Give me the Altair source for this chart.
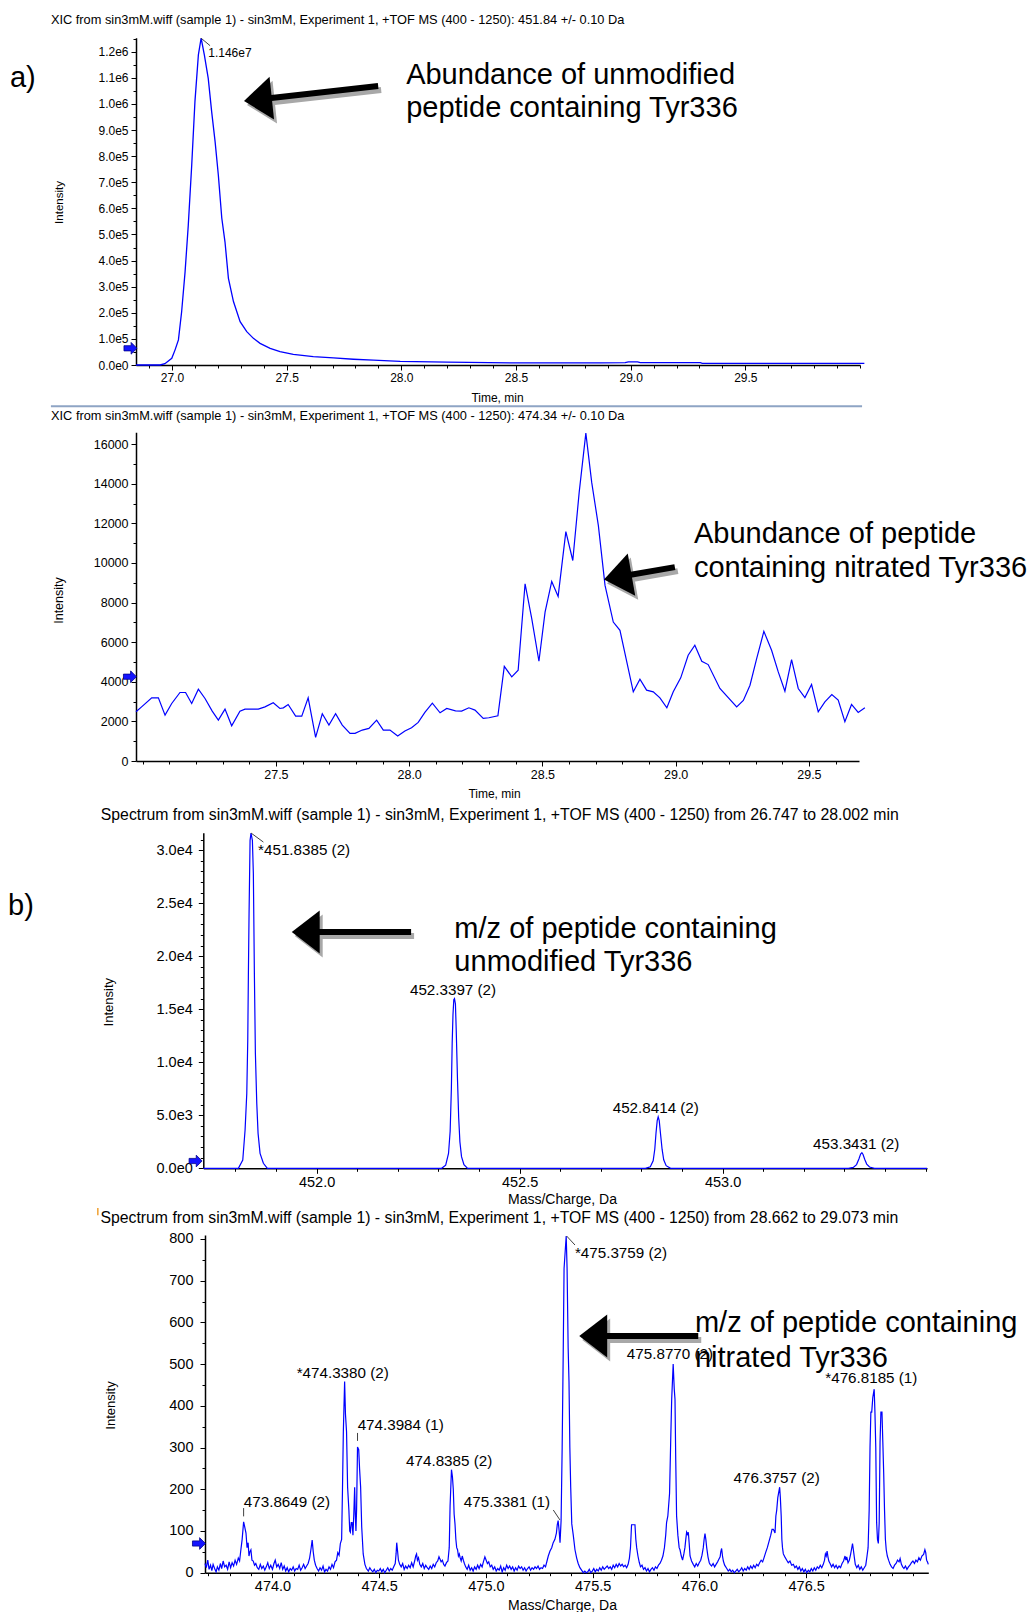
import altair as alt
import pandas as pd

FONT = "Liberation Sans"
BLUE = "#0000ff"
W, H = 1036, 1612

# ---------------- a) XIC, 451.84 +/- 0.10 Da ----------------
xic1_time = [26.843, 26.948, 26.969, 26.999, 27.013, 27.028, 27.042, 27.057, 27.071, 27.086,
             27.100, 27.115, 27.127, 27.141, 27.158, 27.173, 27.188, 27.202, 27.217, 27.231,
             27.246, 27.268, 27.297, 27.326, 27.355, 27.384, 27.428, 27.471, 27.529, 27.616,
             27.704, 27.791, 27.878, 27.995, 28.200, 28.518, 28.867, 28.976, 28.990, 29.030,
             29.042, 29.304, 29.312, 30.019]
xic1_int = [0, 0, 5000, 25700, 57000, 96000, 204000, 357000, 536000, 766000,
            1009000, 1188000, 1252000, 1188000, 1098000, 970000, 855000, 728000, 563000, 472000,
            332000, 243000, 166000, 128000, 102000, 83000, 64000, 51000, 41000, 32000,
            27000, 22000, 18500, 14000, 11000, 8000, 8500, 9000, 12000, 12000,
            9000, 9000, 6500, 6500]

# ---------------- a) XIC, 474.34 +/- 0.10 Da ----------------
xic2_time = [26.975, 26.996, 27.034, 27.059, 27.084, 27.109, 27.140, 27.161, 27.184, 27.209,
             27.234, 27.261, 27.284, 27.309, 27.334, 27.365, 27.384, 27.434, 27.459, 27.490,
             27.515, 27.528, 27.546, 27.574, 27.597, 27.621, 27.649, 27.674, 27.699, 27.724,
             27.749, 27.778, 27.797, 27.824, 27.849, 27.878, 27.903, 27.928, 27.957, 27.984,
             28.009, 28.034, 28.059, 28.087, 28.116, 28.141, 28.174, 28.197, 28.224, 28.247,
             28.278, 28.299, 28.333, 28.357, 28.385, 28.409, 28.435, 28.460, 28.487, 28.510,
             28.535, 28.559, 28.588, 28.614, 28.638, 28.663, 28.685, 28.710, 28.735, 28.766,
             28.791, 28.841, 28.866, 28.891, 28.916, 28.941, 28.967, 28.991, 29.019, 29.047,
             29.072, 29.098, 29.122, 29.166, 29.229, 29.254, 29.279, 29.304, 29.331, 29.360,
             29.385, 29.410, 29.435, 29.460, 29.485, 29.510, 29.535, 29.560, 29.586, 29.610,
             29.635, 29.660, 29.685, 29.710]
xic2_int = [2484, 2736, 3190, 3190, 2317, 2905, 3459, 3459, 2905, 3627,
            3157, 2519, 2066, 2620, 1780, 2519, 2620, 2620, 2736, 2938,
            2653, 2686, 2854, 2267, 2267, 3190, 1192, 2385, 1814, 2385,
            1814, 1394, 1394, 1562, 1646, 2066, 1562, 1562, 1260, 1511,
            1679, 1948, 2452, 2922, 2435, 2653, 2536, 2519, 2687, 2570,
            2150, 2183, 2284, 4780, 4249, 4585, 8951, 7187, 5038, 7522,
            9068, 8313, 11587, 10126, 13568, 16560, 14071, 11890, 8867, 7018,
            6600, 3493, 4131, 3577, 3493, 3190, 2687, 3493, 4198, 5340,
            5844, 5038, 4870, 3661, 2736, 3056, 3829, 5172, 6549, 5592,
            4501, 3526, 5122, 3661, 3207, 3862, 2486, 2989, 3358, 3073,
            1982, 2854, 2452, 2687]

# ---------------- b) spectrum 26.747 to 28.002 min ----------------
spec1_points = [
    (451.721, 0), (451.8074, 0), (451.8182, 782), (451.8239, 3608), (451.8281, 7065),
    (451.8305, 12086), (451.8320, 18049), (451.8337, 24021), (451.8362, 30926), (451.8385, 31615),
    (451.8419, 30926), (451.8443, 27790), (451.8468, 18369), (451.8493, 10833), (451.8527, 6123),
    (451.8559, 3297), (451.8608, 1413), (451.8690, 471), (451.8788, 0),
    (452.308, 0), (452.318, 300), (452.325, 1400), (452.329, 3500), (452.332, 7500),
    (452.334, 11800), (452.336, 14500), (452.338, 15900), (452.3397, 16000), (452.342, 15500),
    (452.344, 13000), (452.347, 8500), (452.350, 4800), (452.353, 2500), (452.357, 1100),
    (452.363, 350), (452.372, 0),
    (452.810, 0), (452.822, 150), (452.829, 700), (452.833, 1800), (452.836, 3300),
    (452.839, 4500), (452.8414, 4860), (452.844, 4500), (452.847, 3300), (452.851, 1800),
    (452.855, 800), (452.861, 250), (452.872, 0),
    (453.310, 0), (453.322, 80), (453.330, 350), (453.336, 900), (453.340, 1350),
    (453.3431, 1470), (453.346, 1300), (453.350, 850), (453.355, 400), (453.362, 120),
    (453.374, 0), (453.5035, 0),
]

# ---------------- b) spectrum 28.662 to 29.073 min ----------------
spec2_points = [
    (473.684, 22), (473.690, 12), (473.697, 30), (473.703, 8), (473.710, 18), (473.716, 5),
    (473.722, 20), (473.729, 10), (473.736, 2), (473.742, 14), (473.749, 6), (473.756, 22),
    (473.762, 10), (473.769, 28), (473.776, 14), (473.783, 18), (473.790, 8), (473.797, 26),
    (473.804, 12), (473.811, 24), (473.818, 16), (473.825, 30), (473.832, 20), (473.840, 35),
    (473.846, 28), (473.852, 55), (473.858, 80), (473.8649, 122), (473.870, 110), (473.876, 95),
    (473.881, 60), (473.886, 72), (473.890, 40), (473.894, 50), (473.899, 55), (473.904, 30),
    (473.910, 28), (473.916, 18), (473.922, 22), (473.929, 12), (473.936, 8), (473.943, 20),
    (473.950, 10), (473.957, 16), (473.964, 6), (473.971, 14), (473.978, 24), (473.985, 10),
    (473.992, 18), (474.000, 8), (474.007, 22), (474.013, 30), (474.020, 14), (474.027, 20),
    (474.034, 10), (474.041, 24), (474.048, 8), (474.055, 16), (474.062, 4), (474.069, 12),
    (474.076, 2), (474.083, 10), (474.090, 6), (474.097, 14), (474.104, 4), (474.111, 10),
    (474.118, 8), (474.125, 18), (474.132, 6), (474.139, 12), (474.146, 20), (474.153, 10),
    (474.160, 16), (474.167, 22), (474.174, 35), (474.180, 55), (474.186, 78), (474.191, 50),
    (474.196, 30), (474.202, 18), (474.209, 10), (474.216, 4), (474.223, 12), (474.230, 6),
    (474.237, 16), (474.244, 2), (474.251, 8), (474.258, 4), (474.265, 14), (474.272, 8),
    (474.279, 20), (474.286, 12), (474.293, 26), (474.300, 30), (474.306, 48), (474.312, 42),
    (474.318, 70), (474.324, 80), (474.328, 200), (474.332, 338), (474.338, 458), (474.342, 380),
    (474.347, 338), (474.352, 205), (474.358, 150), (474.362, 100), (474.365, 97), (474.369, 120),
    (474.373, 120), (474.377, 90), (474.381, 140), (474.385, 205), (474.388, 140), (474.391, 100),
    (474.394, 150), (474.3984, 301), (474.404, 295), (474.408, 250), (474.413, 205), (474.418, 110),
    (474.425, 45), (474.433, 20), (474.440, 10), (474.449, 4), (474.456, 12), (474.463, 6),
    (474.470, 2), (474.477, 8), (474.484, 0), (474.491, 6), (474.498, 4), (474.505, 10),
    (474.512, 2), (474.519, 8), (474.526, 0), (474.533, 6), (474.540, 12), (474.547, 4),
    (474.554, 10), (474.561, 6), (474.568, 14), (474.575, 22), (474.579, 45), (474.582, 72),
    (474.586, 52), (474.590, 30), (474.596, 20), (474.603, 14), (474.610, 22), (474.617, 8),
    (474.624, 16), (474.631, 10), (474.638, 18), (474.645, 12), (474.652, 24), (474.659, 14),
    (474.666, 28), (474.671, 40), (474.675, 45), (474.679, 30), (474.684, 36), (474.690, 20),
    (474.697, 14), (474.704, 22), (474.711, 10), (474.718, 18), (474.725, 12), (474.732, 8),
    (474.739, 16), (474.746, 10), (474.753, 20), (474.760, 14), (474.767, 24), (474.774, 28),
    (474.780, 38), (474.785, 32), (474.790, 26), (474.796, 30), (474.802, 20), (474.808, 16),
    (474.815, 24), (474.822, 28), (474.828, 60), (474.832, 160), (474.8385, 247), (474.843, 230),
    (474.847, 200), (474.851, 140), (474.855, 117), (474.859, 80), (474.863, 60), (474.867, 55),
    (474.871, 40), (474.875, 45), (474.879, 36), (474.884, 28), (474.889, 40), (474.894, 30),
    (474.899, 22), (474.905, 14), (474.912, 8), (474.919, 18), (474.926, 6), (474.933, 12),
    (474.940, 4), (474.947, 14), (474.954, 8), (474.961, 18), (474.968, 10), (474.975, 20),
    (474.982, 14), (474.988, 26), (474.995, 38), (475.001, 30), (475.007, 22), (475.013, 26),
    (475.020, 14), (475.027, 18), (475.034, 8), (475.041, 14), (475.048, 4), (475.055, 10),
    (475.062, 6), (475.069, 16), (475.076, 2), (475.083, 12), (475.090, 6), (475.097, 18),
    (475.104, 10), (475.111, 16), (475.118, 8), (475.125, 14), (475.132, 4), (475.139, 12),
    (475.146, 6), (475.153, 16), (475.160, 10), (475.167, 14), (475.174, 6), (475.181, 12),
    (475.188, 4), (475.195, 10), (475.202, 14), (475.209, 6), (475.216, 12), (475.223, 8),
    (475.230, 14), (475.237, 10), (475.244, 16), (475.251, 8), (475.258, 12), (475.265, 10),
    (475.272, 18), (475.279, 14), (475.286, 28), (475.292, 40), (475.300, 52), (475.308, 60),
    (475.315, 72), (475.323, 80), (475.330, 95), (475.334, 115), (475.3381, 125), (475.343, 100),
    (475.347, 72), (475.352, 125), (475.357, 300), (475.362, 530), (475.3659, 729), (475.3759, 807),
    (475.380, 729), (475.385, 540), (475.389, 458), (475.393, 300), (475.397, 205), (475.402, 117),
    (475.409, 90), (475.417, 55), (475.425, 35), (475.432, 22), (475.440, 12), (475.448, 6),
    (475.456, 0), (475.463, 4), (475.470, 0), (475.477, 2), (475.484, 8), (475.491, 0),
    (475.498, 4), (475.505, 10), (475.512, 2), (475.519, 8), (475.526, 4), (475.533, 12),
    (475.540, 6), (475.547, 14), (475.554, 8), (475.561, 12), (475.568, 16), (475.575, 10),
    (475.582, 14), (475.589, 8), (475.596, 18), (475.603, 12), (475.610, 20), (475.617, 14),
    (475.624, 22), (475.631, 16), (475.638, 20), (475.645, 14), (475.652, 18), (475.659, 12),
    (475.666, 20), (475.672, 35), (475.677, 60), (475.682, 115), (475.690, 115), (475.698, 115),
    (475.702, 80), (475.706, 60), (475.712, 40), (475.718, 25), (475.724, 14), (475.731, 18),
    (475.738, 8), (475.745, 12), (475.752, 4), (475.759, 10), (475.766, 2), (475.773, 8),
    (475.780, 12), (475.787, 6), (475.794, 14), (475.801, 10), (475.808, 18), (475.815, 22),
    (475.822, 30), (475.829, 40), (475.836, 60), (475.842, 90), (475.846, 120), (475.852, 136),
    (475.860, 190), (475.866, 330), (475.870, 416), (475.8770, 500), (475.882, 440), (475.8855, 416),
    (475.889, 270), (475.893, 136), (475.899, 90), (475.905, 60), (475.909, 55), (475.915, 40),
    (475.921, 30), (475.927, 45), (475.932, 60), (475.936, 80), (475.940, 97), (475.944, 92),
    (475.948, 97), (475.952, 70), (475.956, 40), (475.963, 28), (475.971, 20), (475.978, 14),
    (475.985, 22), (475.992, 16), (475.999, 24), (476.006, 30), (476.012, 42), (476.018, 60),
    (476.022, 80), (476.026, 94), (476.030, 80), (476.034, 60), (476.040, 38), (476.046, 24),
    (476.050, 20), (476.057, 16), (476.064, 22), (476.071, 14), (476.078, 20), (476.085, 26),
    (476.091, 32), (476.097, 38), (476.100, 50), (476.104, 58), (476.108, 40), (476.112, 28),
    (476.118, 18), (476.128, 10), (476.135, 4), (476.142, 8), (476.149, 2), (476.156, 6),
    (476.163, 0), (476.170, 4), (476.177, 8), (476.184, 2), (476.191, 6), (476.198, 12),
    (476.205, 4), (476.212, 10), (476.219, 6), (476.226, 14), (476.233, 8), (476.240, 16),
    (476.247, 10), (476.254, 18), (476.261, 12), (476.268, 20), (476.275, 16), (476.282, 24),
    (476.289, 30), (476.296, 26), (476.302, 35), (476.310, 48), (476.318, 60), (476.326, 75),
    (476.334, 90), (476.340, 104), (476.346, 104), (476.350, 100), (476.354, 95), (476.358, 136),
    (476.362, 150), (476.367, 180), (476.3757, 205), (476.379, 180), (476.383, 136), (476.386, 80),
    (476.389, 60), (476.393, 45), (476.400, 38), (476.409, 30), (476.416, 24), (476.424, 28),
    (476.432, 18), (476.440, 20), (476.447, 12), (476.454, 16), (476.461, 8), (476.468, 14),
    (476.475, 4), (476.482, 10), (476.489, 2), (476.496, 8), (476.503, 0), (476.510, 6),
    (476.517, 2), (476.524, 10), (476.531, 4), (476.538, 12), (476.545, 6), (476.552, 14),
    (476.559, 10), (476.566, 18), (476.573, 12), (476.580, 20), (476.586, 30), (476.590, 45),
    (476.594, 40), (476.598, 52), (476.602, 38), (476.606, 28), (476.612, 22), (476.619, 14),
    (476.626, 20), (476.633, 12), (476.640, 18), (476.647, 10), (476.654, 16), (476.661, 12),
    (476.668, 22), (476.675, 28), (476.682, 40), (476.686, 30), (476.690, 38), (476.696, 24),
    (476.702, 30), (476.708, 44), (476.713, 58), (476.717, 70), (476.721, 55), (476.726, 35),
    (476.730, 20), (476.737, 12), (476.744, 18), (476.751, 8), (476.758, 14), (476.765, 6),
    (476.772, 12), (476.779, 18), (476.785, 40), (476.790, 60), (476.795, 150), (476.799, 300),
    (476.803, 385), (476.807, 385), (476.812, 420), (476.8185, 440), (476.822, 385), (476.826, 300),
    (476.830, 120), (476.834, 80), (476.838, 70), (476.842, 120), (476.846, 313), (476.850, 385),
    (476.855, 385), (476.859, 313), (476.863, 240), (476.867, 150), (476.871, 80), (476.875, 55),
    (476.880, 40), (476.886, 30), (476.893, 20), (476.900, 14), (476.907, 10), (476.914, 18),
    (476.921, 22), (476.928, 30), (476.935, 26), (476.940, 34), (476.946, 20), (476.952, 14),
    (476.958, 10), (476.965, 16), (476.972, 8), (476.979, 14), (476.986, 18), (476.993, 24),
    (477.000, 28), (477.007, 22), (477.014, 30), (477.021, 26), (477.028, 36), (477.035, 30),
    (477.042, 40), (477.050, 44), (477.056, 55), (477.060, 48), (477.064, 30), (477.068, 26),
    (477.072, 20),
]

# ---------------- tick positions and labelled ticks ----------------
ticks_t1 = [round(26.9 + 0.1 * i, 1) for i in range(32)]
labels_t1 = [27.0, 27.5, 28.0, 28.5, 29.0, 29.5]
ticks_t2 = [round(27.0 + 0.1 * i, 1) for i in range(27)]
labels_t2 = [27.5, 28.0, 28.5, 29.0, 29.5]
ticks_mz1 = [round(451.8 + 0.1 * i, 1) for i in range(18)]
labels_mz1 = [452.0, 452.5, 453.0]
ticks_mz2 = [round(473.7 + 0.1 * i, 1) for i in range(34)]
labels_mz2 = [474.0, 474.5, 475.0, 475.5, 476.0, 476.5]

ticks_i1 = [50000 * i for i in range(26)]
ticks_i2 = [1000 * i for i in range(17)]
ticks_i3 = [1000 * i for i in range(32)]
ticks_i4 = [50 * i for i in range(17)]

SCI = "replace(format(datum.value, '.1e'), '+', '')"
INT = "format(datum.value, 'd')"

ARROW_HEAD = "M 0 0 L 1.3 -1 L 1.3 1 Z"
MARKER = "M -1 -0.4 L 0.1 -0.4 L 0.1 -0.9 L 1 0 L 0.1 0.9 L 0.1 0.4 L -1 0.4 Z"


def lin(domain, rng):
    return alt.Scale(domain=domain, range=rng, nice=False, zero=False)


def axis_common(fs, tfs):
    return dict(grid=False, domainColor="black", domainWidth=1.5, tickColor="black",
                tickWidth=1, labelColor="black", labelFont=FONT, labelFontSize=fs,
                labelOverlap=False, labelFlush=False, labelBound=False,
                titleFont=FONT, titleFontSize=tfs, titleFontWeight="normal",
                titleColor="black", titleAlign="center", titleBaseline="middle")


def x_axis(ticks, labelled, offset, title, tx, ty, fs, tfs):
    arr = "[" + ",".join(str(v) for v in labelled) + "]"
    test = f"indexof({arr}, datum.value) >= 0"
    return alt.Axis(orient="bottom", offset=offset, values=ticks,
                    labelExpr=f"{test} ? format(datum.value, '.1f') : ''",
                    tickSize={"condition": {"test": test, "value": 5}, "value": 3},
                    labelPadding=2, title=title, titleX=tx, titleY=ty, titleAngle=0,
                    **axis_common(fs, tfs))


def y_axis(ticks, step, fmt, offset, tx, ty, fs, tfs, pad=3):
    test = f"datum.value % {step} == 0"
    return alt.Axis(orient="left", offset=offset, values=ticks,
                    labelExpr=f"{test} ? {fmt} : ''",
                    tickSize={"condition": {"test": test, "value": 5}, "value": 3},
                    labelPadding=pad, title="Intensity", titleX=tx, titleY=ty, titleAngle=270,
                    **axis_common(fs, tfs))


class Frame:
    """Scales and axes shared by every layer of one panel."""

    def __init__(self, xs, ys, ax, ay):
        self.xs, self.ys, self.ax, self.ay = xs, ys, ax, ay

    def enc(self, xf="x", yf="y", **extra):
        return dict(x=alt.X(f"{xf}:Q", scale=self.xs, axis=self.ax, title=None),
                    y=alt.Y(f"{yf}:Q", scale=self.ys, axis=self.ay, title=None), **extra)

    def trace(self, xvals, yvals, width=1.2):
        df = pd.DataFrame({"x": xvals, "y": yvals})
        return alt.Chart(df).mark_line(color=BLUE, strokeWidth=width).encode(**self.enc())

    def text(self, rows, size, align="left", baseline="middle", color="black"):
        df = pd.DataFrame(rows, columns=["label", "x", "y"])
        return alt.Chart(df).mark_text(font=FONT, fontSize=size, align=align, baseline=baseline,
                                       color=color).encode(**self.enc(text="label:N"))

    def rule(self, rows, color, width, dx=0, dy=0):
        df = pd.DataFrame(rows, columns=["x", "y", "x2", "y2"])
        return alt.Chart(df).mark_rule(color=color, strokeWidth=width, xOffset=dx, yOffset=dy,
                                       x2Offset=dx, y2Offset=dy, strokeCap="butt").encode(
            **self.enc(x2="x2:Q", y2="y2:Q"))

    def point(self, rows, shape, size, color, angle=0, dx=0, dy=0, stroke=None):
        df = pd.DataFrame(rows, columns=["x", "y"])
        kw = dict(shape=shape, size=size, filled=True, fill=color, opacity=1, angle=angle,
                  xOffset=dx, yOffset=dy)
        if stroke:
            kw.update(stroke=stroke, strokeWidth=0.8)
        else:
            kw.update(strokeWidth=0)
        return alt.Chart(df).mark_point(**kw).encode(**self.enc())

    def marker(self, pos):
        return self.point([pos], MARKER, 169, "#1414ff", stroke="#00008b")

    def arrow(self, tail, mid, tip, angle):
        shadow = "#a8a8a8"
        seg = [(tail[0], tail[1], mid[0], mid[1])]
        return [
            self.rule(seg, shadow, 6, 3, 4),
            self.point([tip], ARROW_HEAD, 1849, shadow, angle, 3, 4),
            self.rule(seg, "black", 6),
            self.point([tip], ARROW_HEAD, 1849, "black", angle),
        ]


# ---------------- panel 1 ----------------
f1 = Frame(lin([26.843, 30.0], [136, 860]), lin([0, 1254000], [365, 37.7]),
           x_axis(ticks_t1, labels_t1, -(H - 365), "Time, min", 497, 32.3, 12, 12),
           y_axis(ticks_i1, 100000, SCI, -136, -77, 202, 12, 11.5))
p1 = alt.layer(
    f1.trace(xic1_time, xic1_int, 1.3),
    f1.rule([(26.472, -158238, 30.009, -158238)], "#8ea4c4", 2),
    f1.rule([(27.127, 1252000, 27.166, 1223400)], "#404040", 1),
    f1.marker((26.8189, 63985)),
    f1.text([("XIC from sin3mM.wiff (sample 1) - sin3mM, Experiment 1, +TOF MS (400 - 1250): "
              "451.84 +/- 0.10 Da", 26.472, 1319920)], 12.8),
    f1.text([("1.146e7", 27.158, 1194300)], 12),
    *f1.arrow((27.899, 1069000), (27.3748, 1017620), (27.314, 1011500), 354),
    f1.text([("Abundance of unmodified", 28.021, 1076630),
             ("peptide containing Tyr336", 28.021, 950192),
             ("a)", 26.2932, 1063980)], 29, baseline="alphabetic"),
)

# ---------------- panel 2 ----------------
f2 = Frame(lin([26.975, 29.688], [136, 859]), lin([0, 16600], [761, 432.3]),
           x_axis(ticks_t2, labels_t2, -(H - 761), "Time, min", 494, 32.3, 12.5, 12),
           y_axis(ticks_i2, 2000, INT, -136, -78, 600, 12.5, 12.5))
p2 = alt.layer(
    f2.trace(xic2_time, xic2_int),
    f2.marker((26.9523, 4257)),
    f2.text([("XIC from sin3mM.wiff (sample 1) - sin3mM, Experiment 1, +TOF MS (400 - 1250): "
              "474.34 +/- 0.10 Da", 26.656, 17431)], 12.8),
    *f2.arrow((28.997, 9789), (28.7827, 9290), (28.731, 9169), 350),
    f2.text([("Abundance of peptide", 29.0687, 11018),
             ("containing nitrated Tyr336", 29.0687, 9285)], 29, baseline="alphabetic"),
)

# ---------------- panel 3 ----------------
f3 = Frame(lin([451.721, 453.5035], [203.3, 927]), lin([0, 31650], [1168.3, 832.7]),
           x_axis(ticks_mz1, labels_mz1, -(H - 1168.3), "Mass/Charge, Da", 562, 31.2, 14.5, 14),
           y_axis(ticks_i3, 5000, SCI, -203.3, -95, 1001.7, 14.5, 13, pad=6))
p3 = alt.layer(
    f3.trace([p[0] for p in spec1_points], [p[1] for p in spec1_points]),
    f3.marker((451.702, 688)),
    f3.rule([(451.8387, 31615, 451.869, 30766)], "#404040", 1),
    f3.text([("Spectrum from sin3mM.wiff (sample 1) - sin3mM, Experiment 1, +TOF MS (400 - 1250) "
              "from 26.747 to 28.002 min", 451.4685, 33281)], 15.8),
    f3.text([("*451.8385 (2)", 451.856, 30050)], 15.2),
    f3.text([("452.3397 (2)", 452.336, 16796), ("452.8414 (2)", 452.8355, 5652),
             ("453.3431 (2)", 453.329, 2289)], 15.2, align="center"),
    *f3.arrow((452.2328, 22288), (451.9734, 22288), (451.9389, 22288), 0),
    f3.text([("m/z of peptide containing", 452.3394, 21760),
             ("unmodified Tyr336", 452.3394, 18614),
             ("b)", 451.2401, 23861)], 29, baseline="alphabetic"),
)

# ---------------- panel 4 ----------------
f4 = Frame(lin([473.684, 477.072], [205, 928.3]), lin([0, 809.5], [1572.7, 1235]),
           x_axis(ticks_mz2, labels_mz2, -(H - 1572.7), "Mass/Charge, Da", 562, 32.3, 14.5, 14),
           y_axis(ticks_i4, 100, INT, -205, -95, 1405, 14.5, 13, pad=7))
p4 = alt.layer(
    f4.trace([p[0] for p in spec2_points], [p[1] for p in spec2_points]),
    f4.marker((473.6557, 70)),
    f4.rule([(473.182, 857, 473.182, 874)], "#f0a030", 1.5),
    f4.rule([(475.378, 807, 475.417, 785.5), (475.3154, 150.3, 475.3466, 126.4),
             (473.8649, 135, 473.8649, 155), (474.3984, 316, 474.3984, 335)], "#404040", 1),
    f4.text([("Spectrum from sin3mM.wiff (sample 1) - sin3mM, Experiment 1, +TOF MS (400 - 1250) "
              "from 28.662 to 29.073 min", 473.194, 849.5)], 15.8),
    f4.text([("473.8649 (2)", 473.866, 170.2), ("474.3984 (1)", 474.399, 354),
             ("*475.3759 (2)", 475.4169, 767)], 15.2),
    f4.text([("*474.3380 (2)", 474.329, 479.4), ("474.8385 (2)", 474.8277, 268.5),
             ("475.8770 (2)", 475.8618, 524.2), ("476.3757 (2)", 476.3616, 226.3),
             ("*476.8185 (1)", 476.805, 466)], 15.2, align="center"),
    f4.text([("475.3381 (1)", 475.2998, 170.2)], 15.2, align="right"),
    *f4.arrow((475.9944, 567.4), (475.5026, 567.4), (475.437, 567.4), 0),
    f4.text([("m/z of peptide containing", 475.979, 577.7),
             ("nitrated Tyr336", 475.979, 493.8)], 29, baseline="alphabetic"),
)

chart = alt.layer(p1, p2, p3, p4).resolve_scale(
    x="independent", y="independent"
).resolve_axis(
    x="independent", y="independent"
).properties(
    width=W, height=H, padding=0, background="white",
    autosize=alt.AutoSizeParams(type="none"),
).configure_view(stroke=None)

chart.save("out.html", embed_options={"renderer": "svg", "actions": False})
